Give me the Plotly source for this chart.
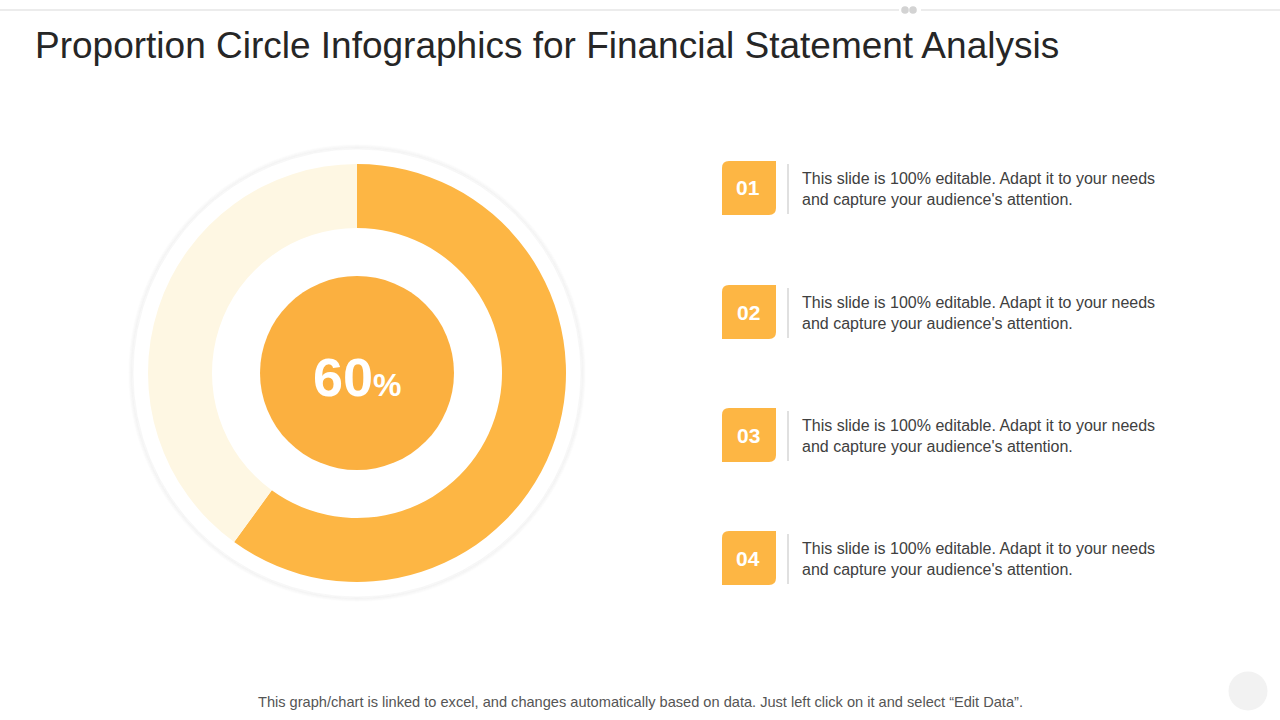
import plotly.graph_objects as go

W, H = 1280, 720

# ---- data ----
slice_labels = ["Achieved", "Remaining"]
slice_values = [60, 40]
center_value = "60"
item_numbers = ["01", "02", "03", "04"]
item_texts = [
    "This slide is 100% editable. Adapt it to your needs<br>and capture your audience's attention.",
    "This slide is 100% editable. Adapt it to your needs<br>and capture your audience's attention.",
    "This slide is 100% editable. Adapt it to your needs<br>and capture your audience's attention.",
    "This slide is 100% editable. Adapt it to your needs<br>and capture your audience's attention.",
]
title_text = "Proportion Circle Infographics for Financial Statement Analysis"
footer_text = ("This graph/chart is linked to excel, and changes automatically based on data. "
               "Just left click on it and select \u201cEdit Data\u201d.")

ORANGE = "#FDB644"
LIGHT = "#FEF7E3"
CENTER = "#FBB040"


def px(x):
    return x / W


def py(y):
    return 1 - y / H


def circle(cx, cy, r, fill, line="rgba(0,0,0,0)", lw=0, layer="below"):
    return dict(type="circle", xref="paper", yref="paper",
                x0=px(cx - r), x1=px(cx + r), y0=py(cy + r), y1=py(cy - r),
                fillcolor=fill, line=dict(color=line, width=lw), layer=layer)


cx, cy = 357, 373
r_out, r_in = 209, 145

fig = go.Figure()
fig.add_trace(go.Pie(
    labels=slice_labels, values=slice_values, sort=False, direction="clockwise",
    rotation=0, hole=r_in / r_out,
    marker=dict(colors=[ORANGE, LIGHT], line=dict(width=0)),
    textinfo="none", hoverinfo="skip", showlegend=False,
    domain=dict(x=[px(cx - r_out), px(cx + r_out)], y=[py(cy + r_out), py(cy - r_out)]),
))

shapes = []
# soft shadow around the backdrop circle
for i, a in enumerate([0.008, 0.014, 0.02, 0.026]):
    shapes.append(circle(cx, cy, 228 - i, "rgba(0,0,0,0)", f"rgba(0,0,0,{a})", 2))
shapes.append(circle(cx, cy, 224, "white", "rgba(0,0,0,0.03)", 1))
shapes.append(circle(cx, cy, 97, CENTER, layer="above"))

# top rule with two dots
shapes.append(dict(type="line", xref="paper", yref="paper", x0=0, x1=px(899), y0=py(10), y1=py(10),
                   line=dict(color="#D9D9D9", width=1)))
shapes.append(dict(type="line", xref="paper", yref="paper", x0=px(921), x1=1, y0=py(10), y1=py(10),
                   line=dict(color="#D9D9D9", width=1)))
shapes.append(circle(905, 10, 3.8, "#D3D3D3"))
shapes.append(circle(913, 10, 3.8, "#D3D3D3"))
# bottom-right grey dot
shapes.append(circle(1248, 691, 19.5, "#F2F2F2"))

annotations = []
box_x0, box_x1 = 722, 776
box_tops = [161, 285, 408, 531]
bh = 54
rr = 7
for num, txt, top in zip(item_numbers, item_texts, box_tops):
    x0, x1, y0, y1 = box_x0, box_x1, top, top + bh
    # rounded top-left and bottom-right corners
    path = (f"M {px(x0)},{py(y0 + rr)} Q {px(x0)},{py(y0)} {px(x0 + rr)},{py(y0)} "
            f"L {px(x1)},{py(y0)} L {px(x1)},{py(y1 - rr)} "
            f"Q {px(x1)},{py(y1)} {px(x1 - rr)},{py(y1)} "
            f"L {px(x0)},{py(y1)} Z")
    shapes.append(dict(type="path", xref="paper", yref="paper", path=path,
                       fillcolor=ORANGE, line=dict(width=0), layer="above"))
    # separator
    shapes.append(dict(type="line", xref="paper", yref="paper", x0=px(788), x1=px(788),
                       y0=py(top + 3), y1=py(top + bh - 1),
                       line=dict(color="#D6D6D6", width=1.5)))
    annotations.append(dict(xref="paper", yref="paper", x=px((x0 + x1) / 2 - 1), y=py(top + bh / 2),
                            text=f"<b>{num}</b>", showarrow=False, xanchor="center", yanchor="middle",
                            font=dict(family="Liberation Sans, Arial", size=21, color="white")))
    annotations.append(dict(xref="paper", yref="paper", x=px(800), y=py(top + 28),
                            text=txt, showarrow=False, xanchor="left", yanchor="middle", align="left",
                            font=dict(family="Liberation Sans, Arial", size=16, color="#404040")))

# centre label
annotations.append(dict(xref="paper", yref="paper", x=px(cx), y=py(cy + 4),
                        text=f"<b>{center_value}<span style='font-size:32px'>%</span></b>",
                        showarrow=False, xanchor="center", yanchor="middle",
                        font=dict(family="Liberation Sans, Arial", size=54, color="white")))
# title
annotations.append(dict(xref="paper", yref="paper", x=px(33), y=py(45), text=title_text,
                        showarrow=False, xanchor="left", yanchor="middle",
                        font=dict(family="Liberation Sans, Arial", size=37, color="#262626")))
# footer
annotations.append(dict(xref="paper", yref="paper", x=px(640), y=py(702), text=footer_text,
                        showarrow=False, xanchor="center", yanchor="middle",
                        font=dict(family="Liberation Sans, Arial", size=14.6, color="#555555")))

fig.update_layout(width=W, height=H, margin=dict(l=0, r=0, t=0, b=0),
                  paper_bgcolor="white", plot_bgcolor="white",
                  shapes=shapes, annotations=annotations, showlegend=False)

fig.write_html("out.html", config={"displayModeBar": False},
               post_script="document.body.style.margin='0';")
